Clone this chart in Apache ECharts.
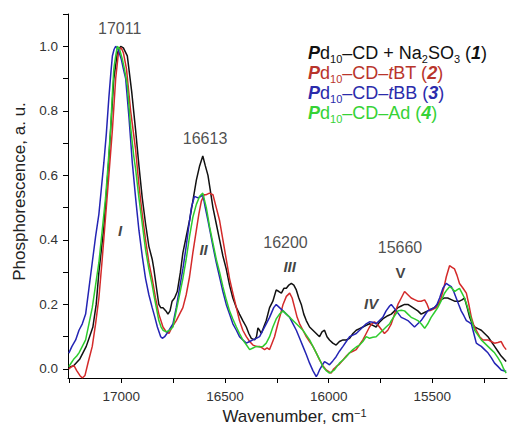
<!DOCTYPE html>
<html>
<head>
<meta charset="utf-8">
<script src="https://cdn.jsdelivr.net/npm/echarts@6/dist/echarts.min.js"></script>
<style>html,body{margin:0;padding:0;background:#fff}#c{width:508px;height:427px}</style>
</head>
<body>
<div id="c"></div>
<script>
// ---- data ----
const xTickValues = [15250,15500,15750,16000,16250,16500,16750,17000,17250];
const xTickLabels = [15500,16000,16500,17000];
const yTickValues = [0,0.1,0.2,0.3,0.4,0.5,0.6,0.7,0.8,0.9,1.0,1.1];
const yTickLabels = [0,0.2,0.4,0.6,0.8,1.0];

const seriesNames = ['Pd10-CD + Na2SO3 (1)','Pd10-CD-tBT (2)','Pd10-CD-tBB (3)','Pd10-CD-Ad (4)'];

const s1 = [[17253,0.005],[17230,0.01],[17201,0.03],[17185,0.05],[17169,0.07],[17153,0.1],[17137,0.13],[17121,0.2],[17108,0.3],[17084,0.44],[17060,0.65],[17036,0.9],[17019,0.98],[17003,1.0],[16990,0.995],[16971,0.97],[16950,0.86],[16931,0.74],[16915,0.63],[16899,0.53],[16883,0.45],[16867,0.38],[16851,0.34],[16843,0.31],[16830,0.25],[16819,0.2],[16810,0.19],[16799,0.19],[16785,0.18],[16775,0.17],[16765,0.18],[16755,0.21],[16743,0.22],[16730,0.24],[16715,0.3],[16703,0.36],[16687,0.41],[16671,0.46],[16655,0.52],[16638,0.585],[16622,0.63],[16607,0.66],[16595,0.63],[16582,0.6],[16570,0.55],[16558,0.5],[16542,0.45],[16526,0.4],[16510,0.35],[16494,0.31],[16478,0.26],[16462,0.22],[16445,0.19],[16430,0.17],[16414,0.15],[16397,0.13],[16385,0.11],[16373,0.095],[16357,0.09],[16348,0.1],[16341,0.127],[16333,0.12],[16325,0.11],[16313,0.13],[16301,0.15],[16285,0.19],[16269,0.21],[16253,0.245],[16240,0.24],[16228,0.235],[16216,0.25],[16204,0.25],[16192,0.26],[16180,0.265],[16168,0.26],[16156,0.245],[16144,0.22],[16132,0.2],[16120,0.17],[16108,0.15],[16092,0.13],[16076,0.12],[16060,0.11],[16044,0.1],[16032,0.115],[16020,0.12],[16008,0.1],[15996,0.09],[15980,0.08],[15964,0.074],[15948,0.085],[15931,0.09],[15915,0.09],[15899,0.095],[15883,0.11],[15867,0.12],[15851,0.125],[15835,0.13],[15819,0.135],[15803,0.14],[15787,0.135],[15771,0.13],[15755,0.145],[15739,0.155],[15715,0.165],[15698,0.17],[15682,0.18],[15666,0.19],[15650,0.195],[15634,0.2],[15618,0.2],[15594,0.19],[15570,0.18],[15554,0.17],[15538,0.175],[15522,0.18],[15506,0.185],[15490,0.19],[15474,0.2],[15458,0.214],[15442,0.22],[15426,0.22],[15409,0.215],[15393,0.21],[15369,0.21],[15355,0.215],[15345,0.22],[15332,0.19],[15320,0.16],[15308,0.14],[15296,0.13],[15280,0.125],[15264,0.12],[15248,0.11],[15232,0.1],[15216,0.085],[15200,0.07],[15184,0.055],[15168,0.04],[15144,0.023]];

const s2 = [[17253,0.0],[17240,0.007],[17228,0.01],[17215,-0.005],[17200,-0.02],[17188,-0.028],[17175,-0.02],[17160,0.02],[17140,0.07],[17124,0.14],[17108,0.22],[17092,0.34],[17076,0.47],[17060,0.6],[17043,0.74],[17027,0.9],[17012,0.99],[17000,0.995],[16990,0.98],[16975,0.93],[16955,0.8],[16931,0.68],[16915,0.57],[16899,0.48],[16883,0.4],[16867,0.33],[16851,0.28],[16835,0.22],[16819,0.17],[16799,0.13],[16783,0.115],[16770,0.11],[16755,0.13],[16735,0.15],[16719,0.17],[16703,0.19],[16687,0.23],[16671,0.285],[16655,0.36],[16638,0.43],[16626,0.48],[16614,0.52],[16600,0.54],[16590,0.54],[16575,0.545],[16558,0.54],[16542,0.5],[16526,0.46],[16510,0.4],[16494,0.34],[16478,0.28],[16462,0.235],[16445,0.19],[16430,0.15],[16414,0.12],[16397,0.1],[16381,0.085],[16365,0.074],[16349,0.07],[16333,0.07],[16321,0.065],[16309,0.06],[16297,0.065],[16285,0.06],[16273,0.08],[16261,0.1],[16245,0.14],[16232,0.17],[16220,0.2],[16204,0.225],[16188,0.235],[16176,0.22],[16164,0.19],[16152,0.16],[16140,0.14],[16124,0.12],[16108,0.1],[16092,0.085],[16076,0.07],[16060,0.05],[16044,0.028],[16028,0.01],[16012,-0.003],[15996,-0.01],[15988,-0.013],[15976,0.0],[15964,0.007],[15948,0.015],[15931,0.028],[15915,0.04],[15899,0.05],[15883,0.055],[15867,0.06],[15851,0.075],[15835,0.09],[15819,0.11],[15803,0.13],[15791,0.14],[15779,0.146],[15767,0.14],[15755,0.13],[15743,0.12],[15731,0.11],[15715,0.12],[15698,0.14],[15682,0.17],[15666,0.2],[15650,0.22],[15634,0.24],[15618,0.23],[15602,0.22],[15586,0.215],[15570,0.21],[15554,0.21],[15537,0.214],[15525,0.2],[15513,0.18],[15497,0.185],[15481,0.19],[15470,0.2],[15458,0.22],[15445,0.25],[15433,0.285],[15417,0.32],[15405,0.315],[15393,0.31],[15381,0.29],[15369,0.265],[15352,0.25],[15336,0.235],[15324,0.2],[15312,0.16],[15300,0.135],[15288,0.12],[15272,0.1],[15256,0.09],[15232,0.09],[15216,0.085],[15200,0.08],[15184,0.082],[15168,0.085],[15156,0.07],[15144,0.06]];

const s3 = [[17253,0.049],[17238,0.07],[17220,0.09],[17204,0.12],[17188,0.14],[17172,0.17],[17156,0.25],[17140,0.33],[17124,0.41],[17108,0.48],[17096,0.56],[17084,0.64],[17072,0.73],[17060,0.84],[17050,0.92],[17043,0.97],[17035,0.99],[17027,1.0],[17015,0.99],[17000,0.96],[16990,0.93],[16979,0.9],[16963,0.78],[16947,0.64],[16931,0.53],[16915,0.43],[16899,0.35],[16883,0.28],[16867,0.23],[16851,0.19],[16838,0.16],[16826,0.13],[16810,0.1],[16802,0.095],[16791,0.1],[16780,0.11],[16770,0.12],[16751,0.14],[16735,0.19],[16719,0.25],[16703,0.31],[16687,0.38],[16675,0.44],[16662,0.5],[16647,0.535],[16630,0.53],[16615,0.535],[16607,0.54],[16595,0.5],[16582,0.46],[16570,0.42],[16558,0.38],[16542,0.33],[16526,0.285],[16510,0.24],[16494,0.2],[16478,0.17],[16462,0.14],[16445,0.12],[16430,0.1],[16414,0.09],[16397,0.08],[16381,0.085],[16365,0.09],[16349,0.095],[16333,0.1],[16317,0.12],[16301,0.14],[16285,0.16],[16265,0.19],[16253,0.2],[16237,0.19],[16220,0.18],[16204,0.17],[16188,0.16],[16172,0.14],[16156,0.12],[16140,0.095],[16124,0.07],[16108,0.045],[16092,0.018],[16076,-0.005],[16060,-0.024],[16052,-0.015],[16044,-0.003],[16032,0.01],[16020,0.023],[16008,0.018],[15996,0.013],[15980,0.025],[15964,0.038],[15948,0.055],[15931,0.07],[15915,0.085],[15899,0.1],[15883,0.105],[15867,0.11],[15851,0.12],[15835,0.13],[15819,0.14],[15803,0.146],[15787,0.145],[15771,0.14],[15755,0.15],[15739,0.16],[15723,0.18],[15706,0.195],[15698,0.2],[15686,0.19],[15674,0.18],[15662,0.17],[15650,0.16],[15634,0.155],[15618,0.15],[15602,0.14],[15586,0.13],[15570,0.14],[15554,0.15],[15538,0.165],[15522,0.18],[15506,0.185],[15490,0.19],[15478,0.2],[15465,0.22],[15449,0.25],[15433,0.265],[15421,0.26],[15409,0.255],[15397,0.24],[15385,0.22],[15373,0.2],[15361,0.18],[15348,0.165],[15336,0.15],[15324,0.145],[15312,0.14],[15300,0.11],[15288,0.08],[15276,0.075],[15264,0.07],[15248,0.06],[15232,0.05],[15216,0.035],[15200,0.018],[15184,0.008],[15168,-0.003],[15144,-0.008]];

const s4 = [[17253,0.007],[17240,0.02],[17230,0.03],[17215,0.04],[17204,0.05],[17188,0.07],[17172,0.09],[17156,0.14],[17140,0.19],[17124,0.26],[17108,0.33],[17092,0.43],[17076,0.53],[17064,0.63],[17052,0.74],[17044,0.84],[17036,0.93],[17027,0.97],[17019,1.0],[17008,0.99],[16995,0.96],[16985,0.93],[16971,0.88],[16955,0.75],[16940,0.66],[16931,0.62],[16915,0.53],[16899,0.45],[16883,0.37],[16867,0.31],[16851,0.26],[16843,0.23],[16831,0.19],[16819,0.15],[16808,0.13],[16799,0.12],[16783,0.115],[16767,0.12],[16751,0.13],[16735,0.18],[16719,0.23],[16703,0.28],[16687,0.34],[16671,0.41],[16655,0.47],[16638,0.51],[16622,0.535],[16607,0.545],[16590,0.5],[16574,0.44],[16558,0.39],[16542,0.34],[16526,0.3],[16510,0.255],[16494,0.215],[16478,0.18],[16462,0.155],[16445,0.13],[16430,0.11],[16414,0.09],[16397,0.075],[16381,0.06],[16365,0.065],[16349,0.07],[16333,0.068],[16317,0.07],[16301,0.08],[16285,0.1],[16269,0.13],[16253,0.155],[16237,0.17],[16220,0.18],[16204,0.17],[16188,0.16],[16172,0.15],[16156,0.14],[16140,0.13],[16124,0.12],[16108,0.105],[16092,0.09],[16076,0.07],[16060,0.05],[16044,0.03],[16028,0.007],[16012,-0.005],[15996,-0.013],[15984,-0.008],[15972,-0.003],[15960,0.008],[15948,0.018],[15931,0.028],[15915,0.038],[15899,0.05],[15883,0.06],[15867,0.068],[15851,0.074],[15835,0.085],[15819,0.1],[15811,0.098],[15803,0.095],[15787,0.098],[15771,0.1],[15755,0.11],[15739,0.12],[15723,0.13],[15706,0.14],[15698,0.15],[15682,0.165],[15666,0.18],[15650,0.182],[15634,0.18],[15618,0.17],[15602,0.16],[15586,0.155],[15570,0.15],[15554,0.14],[15537,0.126],[15522,0.14],[15506,0.16],[15490,0.175],[15474,0.19],[15458,0.21],[15442,0.234],[15430,0.245],[15417,0.255],[15405,0.25],[15393,0.24],[15381,0.245],[15369,0.25],[15357,0.235],[15345,0.22],[15332,0.195],[15320,0.17],[15308,0.145],[15296,0.12],[15280,0.105],[15264,0.09],[15248,0.08],[15232,0.07],[15216,0.06],[15200,0.05],[15184,0.035],[15168,0.018],[15156,0.0],[15144,-0.013]];

// peak annotations: [text, wavenumber, value]
const peakLabels = [['17011',17008,1.056],['16613',16596,0.715],['16200',16208,0.393],['15660',15656,0.376]];
// band annotations
const bandLabels = [['I',17006,0.43],['II',16603,0.371],['III',16188,0.317],['IV',15795,0.203],['V',15654,0.299]];

// ---- chart ----
const FF = '"Liberation Sans", Arial, Helvetica, sans-serif';
const lineColors = ['#111111','#d42a2a','#2424b4','#2ecc2e'];
const legendColors = ['#111111','#b9352c','#2b2bab','#36d236'];
const chart = echarts.init(document.getElementById('c'), null, {renderer:'svg'});

const legendRich = {};
legendColors.forEach((c,i)=>{
  legendRich['P'+i] = {color:c, fontSize:18, fontWeight:'bold', fontStyle:'italic', fontFamily:FF, lineHeight:22};
  legendRich['n'+i] = {color:c, fontSize:18, fontFamily:FF, lineHeight:22};
  legendRich['t'+i] = {color:c, fontSize:18, fontStyle:'italic', fontFamily:FF, lineHeight:22};
  legendRich['b'+i] = {color:c, fontSize:18, fontWeight:'bold', fontStyle:'italic', fontFamily:FF, lineHeight:22};
  legendRich['s'+i] = {color:c, fontSize:11, fontFamily:FF, lineHeight:2, verticalAlign:'bottom'};
});
function legendText(name){
  const i = seriesNames.indexOf(name);
  const k = x => x + i;
  const head = `{${k('P')}|P}{${k('n')}|d}{${k('s')}|10}`;
  if (i === 0) return head + `{${k('n')}|–CD + Na}{${k('s')}|2}{${k('n')}|SO}{${k('s')}|3}{${k('n')}| (}{${k('b')}|1}{${k('n')}|)}`;
  if (i === 1) return head + `{${k('n')}|–CD–}{${k('t')}|t}{${k('n')}|BT (}{${k('b')}|2}{${k('n')}|)}`;
  if (i === 2) return head + `{${k('n')}|–CD–}{${k('t')}|t}{${k('n')}|BB (}{${k('b')}|3}{${k('n')}|)}`;
  return head + `{${k('n')}|–CD–Ad (}{${k('b')}|4}{${k('n')}|)}`;
}

const allData = [s1,s2,s3,s4];
const series = allData.map((d,i)=>({
  name: seriesNames[i], type:'line', data:d, showSymbol:false, symbol:'none',
  lineStyle:{color:lineColors[i], width:1.5}, itemStyle:{color:lineColors[i]},
  silent:true, animation:false, clip:true, z:2+i
}));
series.push({
  type:'scatter', data: peakLabels.map(p=>({name:p[0], value:[p[1],p[2]]})),
  symbolSize:0, silent:true, animation:false, z:10,
  label:{show:true, position:'inside', formatter:p=>p.name, color:'#222', fontSize:16, fontFamily:FF}
});
series.push({
  type:'scatter', data: bandLabels.map(p=>({name:p[0], value:[p[1],p[2]],
     label:{fontStyle: p[0]==='V' ? 'normal' : 'italic'}})),
  symbolSize:0, silent:true, animation:false, z:10,
  label:{show:true, position:'inside', formatter:p=>p.name, color:'#111', fontSize:15, fontWeight:'bold', fontFamily:FF}
});

chart.setOption({
  animation:false,
  backgroundColor:'#fff',
  grid:{left:68, right:1, top:14, bottom:49, containLabel:false, outerBoundsMode:'none'},
  legend:{
    data: seriesNames.map((n,i)=>({name:n, icon:'none'})),
    orient:'vertical', left:298, top:39, itemWidth:0, itemHeight:10, itemGap:0,
    selectedMode:false,
    formatter: legendText,
    textStyle:{rich:legendRich, fontFamily:FF, fontSize:18}
  },
  xAxis:{
    type:'value', inverse:true, min:15140, max:17257,
    axisLine:{show:true, onZero:false, lineStyle:{color:'#000', width:1}},
    axisTick:{show:true, inside:false, length:5, customValues:xTickValues, lineStyle:{color:'#000'}},
    axisLabel:{customValues:xTickLabels, formatter:v=>String(v), fontSize:13.5, color:'#333', margin:11, fontFamily:FF},
    splitLine:{show:false},
    name:'Wavenumber, cm{sup|−1}', nameLocation:'middle', nameGap:29,
    nameTextStyle:{fontSize:17, color:'#222', fontFamily:FF, padding:[0,0,0,14],
      rich:{sup:{fontSize:11, color:'#222', fontFamily:FF, verticalAlign:'top', lineHeight:16}}}
  },
  yAxis:{
    type:'value', min:-0.028, max:1.1,
    axisLine:{show:true, onZero:false, lineStyle:{color:'#000', width:1}},
    axisTick:{show:true, inside:false, length:5, customValues:yTickValues, lineStyle:{color:'#000'}},
    axisLabel:{customValues:yTickLabels, formatter:v=>v.toFixed(1), fontSize:13.5, color:'#333', margin:10, fontFamily:FF},
    splitLine:{show:false},
    name:'Phosphorescence, a. u.', nameLocation:'middle', nameGap:40,
    nameTextStyle:{fontSize:17, color:'#222', fontFamily:FF, padding:[0,0,0,9]}
  },
  series: series
});
</script>
</body>
</html>
